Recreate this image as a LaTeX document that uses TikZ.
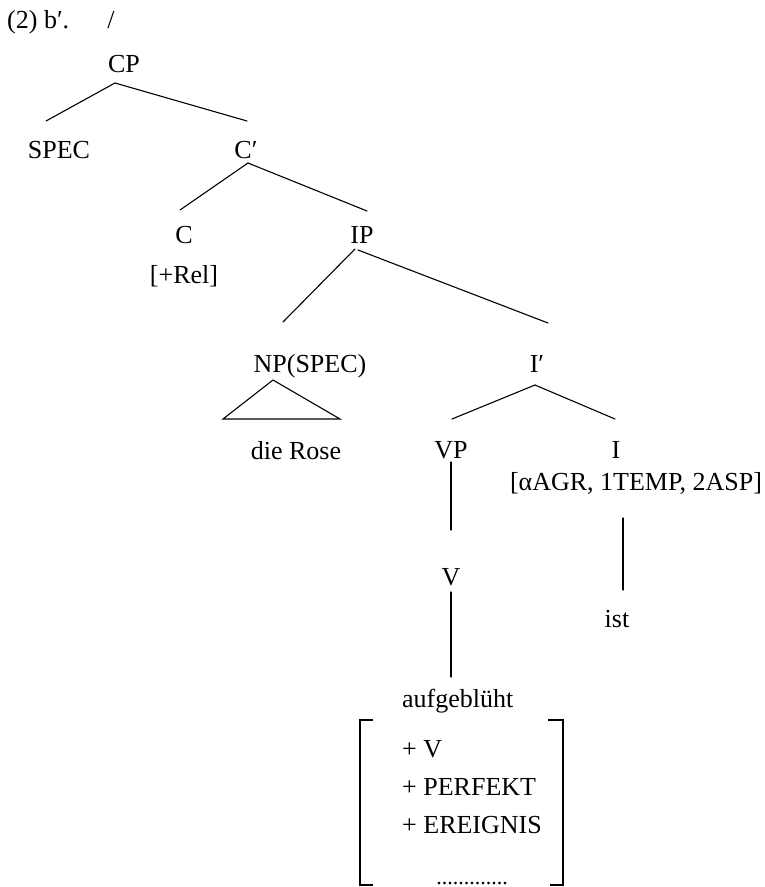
\documentclass[tikz,border=0pt]{standalone}
\usepackage{fontspec}
\setmainfont{Liberation Serif}
\begin{document}
\begin{tikzpicture}[x=1pt,y=-1pt,
  lbl/.style={inner sep=0pt, anchor=base, font=\fontsize{26}{31}\selectfont},
  lblw/.style={lbl, anchor=base west},
  branch/.style={line width=1.1pt, line cap=round},
  bracketline/.style={line width=1.1pt}]
\useasboundingbox (0,0) rectangle (765,887);

% example number
\node[lblw] (hdr) at (7,28) {(2) b′.};
\node[lbl] (slash) at (111,28) {/};

% labels of the tree
\node[lbl] (CP)    at (124,72)  {CP};
\node[lbl] (SPEC)  at (59,158)  {SPEC};
\node[lbl] (Cbar)  at (246,158) {C′};
\node[lbl] (C)     at (184,243) {C};
\node[lbl] (Rel)   at (184,283) {[+Rel]};
\node[lbl] (IP)    at (362,243) {IP};
\node[lbl] (NP)    at (310,372) {NP(SPEC)};
\node[lbl] (Rose)  at (296,459) {die Rose};
\node[lbl] (Ibar)  at (537,372) {I′};
\node[lbl] (VP)    at (451,458) {VP};
\node[lbl] (I)     at (616,458) {I};
\node[lbl] (Ifeat) at (636,490) {[αAGR, 1TEMP, 2ASP]};
\node[lbl] (V)     at (451,585) {V};
\node[lbl] (ist)   at (617,627) {ist};
\node[lblw] (aufg) at (402,707) {aufgeblüht};
\node[lblw] (fV)   at (402,757) {+ V};
\node[lblw] (fPerf) at (402,795) {+ PERFEKT};
\node[lblw] (fEreig) at (402,833) {+ EREIGNIS};
\node[lbl, font=\fontsize{22}{26}\selectfont] (dots) at (472,884) {.............};

% branches
\draw[branch] ([shift={(-9,11)}]CP.base) -- ([shift={(-13,-37)}]SPEC.base);
\draw[branch] ([shift={(-9,11)}]CP.base) -- ([shift={(1,-37)}]Cbar.base);
\draw[branch] ([shift={(2,5)}]Cbar.base) -- ([shift={(-4,-33)}]C.base);
\draw[branch] ([shift={(2,5)}]Cbar.base) -- ([shift={(5,-32)}]IP.base);
\draw[branch] ([shift={(-7,6)}]IP.base) -- ([shift={(-27,-50)}]NP.base);
\draw[branch] ([shift={(-4,7)}]IP.base) -- ([shift={(11,-49)}]Ibar.base);
\draw[branch] ([shift={(-2,13)}]Ibar.base) -- ([shift={(1,-39)}]VP.base);
\draw[branch] ([shift={(-2,13)}]Ibar.base) -- ([shift={(-1,-39)}]I.base);
\draw[branch] ([shift={(0,4)}]VP.base) -- ([shift={(0,-55)}]V.base);
\draw[branch] ([shift={(0,7)}]V.base) -- ([shift={(49,-30)}]aufg.base west);
\draw[branch] ([shift={(-13,28)}]Ifeat.base) -- ([shift={(6,-37)}]ist.base);

% triangle over "die Rose"
\draw[branch, line join=miter] ([shift={(-37,8)}]NP.base) -- ([shift={(-87,47)}]NP.base)
  -- ([shift={(30,47)}]NP.base) -- cycle;

% feature matrix brackets
\draw[bracketline] (373,720) -- (360,720) -- (360,885) -- (373,885);
\draw[bracketline] (548,720) -- (563,720) -- (563,885) -- (550,885);
\end{tikzpicture}
\end{document}
